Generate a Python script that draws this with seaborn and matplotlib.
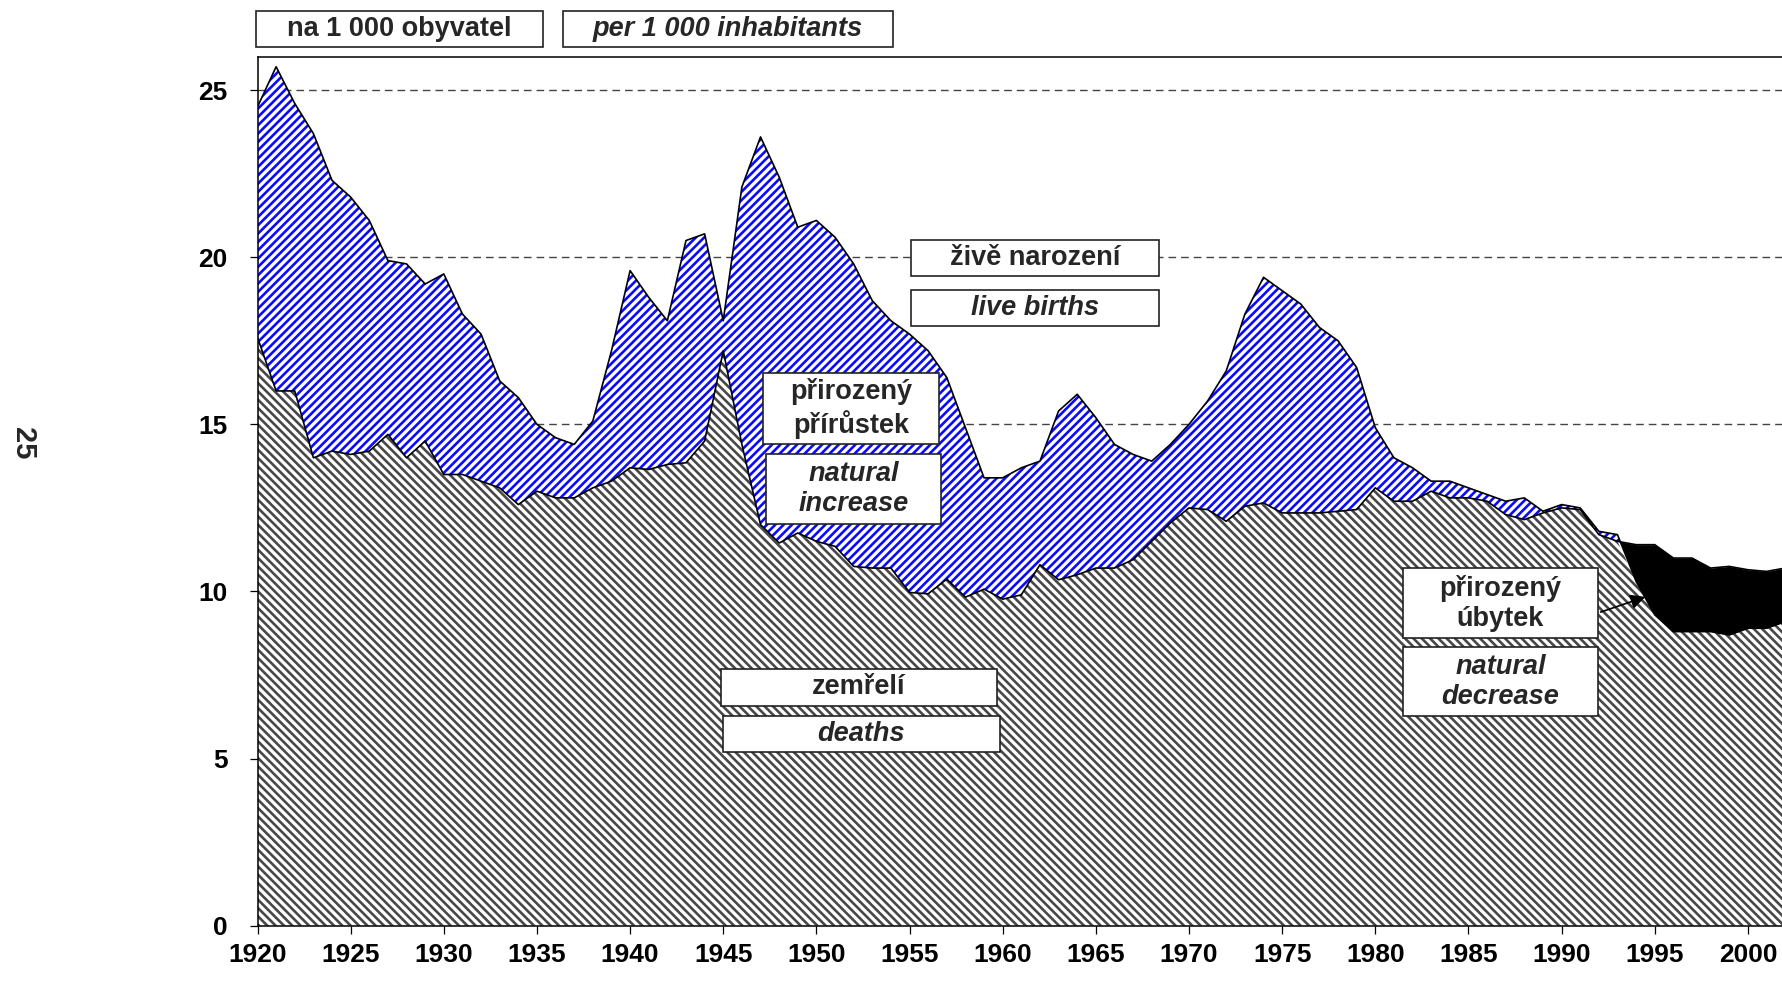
import numpy as np
import pandas as pd
import seaborn as sns
import matplotlib.pyplot as plt
from matplotlib.patches import Rectangle, FancyArrowPatch

# Rates per 1 000 inhabitants
years = list(range(1920, 2003))
births = [24.5, 25.7, 24.6, 23.7, 22.3, 21.8, 21.1, 19.9, 19.8, 19.2,
          19.5, 18.3, 17.7, 16.3, 15.8, 15.0, 14.6, 14.4, 15.1, 17.2,
          19.6, 18.8, 18.1, 20.5, 20.7, 18.1, 22.1, 23.6, 22.4, 20.9,
          21.1, 20.6, 19.8, 18.7, 18.1, 17.7, 17.2, 16.4, 14.9, 13.4,
          13.4, 13.7, 13.9, 15.4, 15.9, 15.2, 14.4, 14.1, 13.9, 14.4,
          15.0, 15.7, 16.6, 18.3, 19.4, 19.0, 18.6, 17.9, 17.5, 16.7,
          14.9, 14.0, 13.7, 13.3, 13.3, 13.1, 12.9, 12.7, 12.8, 12.4,
          12.6, 12.5, 11.8, 11.7, 10.3, 9.3, 8.8, 8.8, 8.8, 8.7,
          8.9, 8.9, 9.1]
deaths = [17.6, 16.0, 16.0, 14.0, 14.2, 14.1, 14.2, 14.7, 14.0, 14.5,
          13.5, 13.5, 13.3, 13.1, 12.6, 13.0, 12.8, 12.8, 13.1, 13.3,
          13.7, 13.65, 13.8, 13.85, 14.5, 17.2, 14.4, 12.0, 11.45, 11.75,
          11.5, 11.35, 10.75, 10.7, 10.7, 9.97, 9.93, 10.37, 9.83, 10.07,
          9.77, 9.9, 10.8, 10.35, 10.5, 10.7, 10.7, 10.95, 11.5, 12.05,
          12.5, 12.45, 12.1, 12.55, 12.65, 12.35, 12.35, 12.35, 12.4, 12.45,
          13.1, 12.7, 12.7, 13.0, 12.8, 12.8, 12.7, 12.3, 12.15, 12.35,
          12.5, 12.45, 11.7, 11.5, 11.4, 11.4, 11.0, 11.0, 10.7, 10.75,
          10.65, 10.6, 10.7]
x_ticks = list(range(1920, 2001, 5))
y_ticks = [0, 5, 10, 15, 20, 25]

df = pd.DataFrame({'year': years, 'births': births, 'deaths': deaths})

sns.set_theme(style='white')
plt.rcParams['font.family'] = ['Liberation Sans', 'DejaVu Sans']
plt.rcParams['font.weight'] = 'bold'
plt.rcParams['hatch.linewidth'] = 1.9

W, H = 1782, 981
fig = plt.figure(figsize=(W / 100, H / 100), dpi=100)
ax = fig.add_axes([257.5 / W, 1 - 925.7 / H, 84 * 18.63 / W, (925.7 - 56.7) / H])

b = df['births'].to_numpy()
d = df['deaths'].to_numpy()
low = np.minimum(b, d)

# deaths area (gray hatch), natural increase (blue hatch), natural decrease (black)
ax.fill_between(df['year'], 0, low, facecolor='white', edgecolor='#484848',
                hatch='\\\\\\\\', linewidth=0, zorder=2)
ax.fill_between(df['year'], d, b, where=b >= d, interpolate=True,
                facecolor='white', edgecolor='#0a0aff', hatch='////',
                linewidth=0, zorder=2)
ax.fill_between(df['year'], b, d, where=d > b, interpolate=True,
                color='black', linewidth=0, zorder=2)

sns.lineplot(data=df, x='year', y='births', color='black', linewidth=1.2,
             ax=ax, zorder=3)
sns.lineplot(data=df, x='year', y='deaths', color='black', linewidth=1.2,
             ax=ax, zorder=3)

ax.set_xlim(1920, 2004)
ax.set_ylim(0, 26)
ax.set_xticks(x_ticks)
ax.set_yticks(y_ticks)
ax.set_xlabel('')
ax.set_ylabel('')
ax.set_axisbelow(True)
ax.yaxis.grid(True, color='#444444', linewidth=1.0, linestyle=(0, (5.5, 3.6)))
ax.xaxis.grid(False)
for s in ax.spines.values():
    s.set_color('black')
    s.set_linewidth(1.1)
ax.tick_params(axis='x', direction='out', length=5.5, width=0.9, pad=7,
               labelsize=19, colors='black', bottom=True)
ax.tick_params(axis='y', direction='out', length=5.5, width=0.9, pad=16,
               labelsize=19, colors='black', left=True)


def box(x0, y0, x1, y1, text, italic=False):
    fig.patches.append(Rectangle((x0 / W, 1 - y1 / H), (x1 - x0) / W, (y1 - y0) / H,
                                 transform=fig.transFigure, facecolor='white',
                                 edgecolor='#222222', linewidth=1.2, zorder=5))
    fig.text((x0 + x1) / 2 / W, 1 - (y0 + y1) / 2 / H, text, ha='center',
             va='center', fontsize=19.5, fontweight='bold',
             fontstyle='italic' if italic else 'normal', zorder=6,
             linespacing=1.2)


box(256, 11, 543, 47, 'na 1 000 obyvatel')
box(563, 11, 893, 47, 'per 1 000 inhabitants', True)
box(911, 240, 1159, 276, 'živě narození')
box(911, 290, 1159, 326, 'live births', True)
box(763, 373, 939, 444, 'přirozený\npřírůstek')
box(766, 454, 941, 524, 'natural\nincrease', True)
box(721, 669, 997, 706, 'zemřelí')
box(723, 716, 1000, 752, 'deaths', True)
box(1403, 568, 1598, 638, 'přirozený\núbytek')
box(1403, 647, 1598, 716, 'natural\ndecrease', True)

fig.patches.append(FancyArrowPatch((1598 / W, 1 - 613 / H), (1648 / W, 1 - 596 / H),
                                   transform=fig.transFigure, arrowstyle='-|>',
                                   mutation_scale=22, color='black',
                                   linewidth=1.2, zorder=6))

fig.text(23 / W, 1 - 443 / H, '25', rotation=-90, ha='center', va='center',
         fontsize=21, fontweight='bold')

fig.savefig('out.png', dpi=100)
